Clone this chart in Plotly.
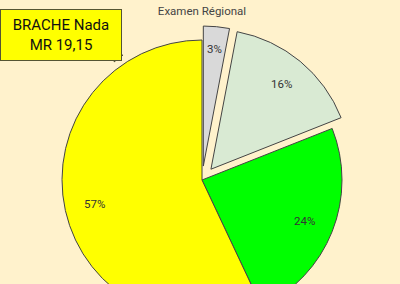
import math
import plotly.graph_objects as go

categories = ["A", "B", "C", "D"]
values = [3, 16, 24, 57]
colors = ["#d9d9d9", "#d9ead3", "#00ff00", "#ffff00"]
pulls = [0.1, 0.1, 0, 0]
title_text = "Examen Régional"
note_text = "BRACHE Nada<br>MR 19,15"

W, H = 400, 340
ml, mr, mt, mb = 48, 44, 26, 6
pw = W - ml - mr
ph = H - mt - mb

fig = go.Figure(go.Pie(
    labels=categories, values=values, sort=False, direction="clockwise", rotation=0,
    pull=pulls, marker=dict(colors=colors, line=dict(color="#444444", width=1)),
    textinfo="none", hoverinfo="skip", showlegend=False,
))

# percentage labels placed along each slice's mid-angle (Sheets-like placement)
total = sum(values)
cum = 0.0
R = 0.5 / (1 + max(pulls))  # radius in paper-width units (domain is square)
for v, p in zip(values, pulls):
    mid = (cum + v / 2) / total * 2 * math.pi
    cum += v
    r = R * (0.79 + p + (0.05 if v / total < 0.05 else 0))
    px = 0.5 + r * math.sin(mid)
    py = 0.5 + r * math.cos(mid)
    fig.add_annotation(text=f"{round(100 * v / total)}%", x=px, y=py, xref="paper", yref="paper",
                       showarrow=False, xanchor="center", yanchor="middle",
                       font=dict(family="Roboto", size=11.5, color="#333333"))

fig.update_layout(
    width=W, height=H, margin=dict(l=ml, r=mr, t=mt, b=mb),
    paper_bgcolor="#fff2cc", plot_bgcolor="#fff2cc",
    title=dict(text=title_text, x=0.5, xref="paper", xanchor="center",
               y=1 - 11 / H, yref="container", yanchor="middle",
               font=dict(family="Roboto", size=11.5, color="#444444")),
)

bx0 = (0 - ml) / pw
by1 = 1 + (mt - 9) / ph
fig.add_annotation(
    text=note_text, xref="paper", yref="paper",
    x=bx0, y=by1, xanchor="left", yanchor="top",
    showarrow=False, align="center", width=118, height=48,
    bgcolor="#ffff00", bordercolor="#555533", borderwidth=1, borderpad=1,
    font=dict(family="Roboto", size=15, color="#111111"),
)
# folded corner of the note
fx1 = (123 - ml) / pw
fy0 = 1 - (62 - mt) / ph
fig.add_shape(type="path", xref="paper", yref="paper",
              path=f"M {fx1 - 9 / pw} {fy0} L {fx1} {fy0 + 7 / ph} L {fx1 - 7 / pw} {fy0 + 5 / ph} Z",
              fillcolor="#e0d84a", line=dict(color="#555533", width=1))

fig.write_html("out.html", post_script="document.body.style.overflow='hidden';document.documentElement.style.overflow='hidden';")
